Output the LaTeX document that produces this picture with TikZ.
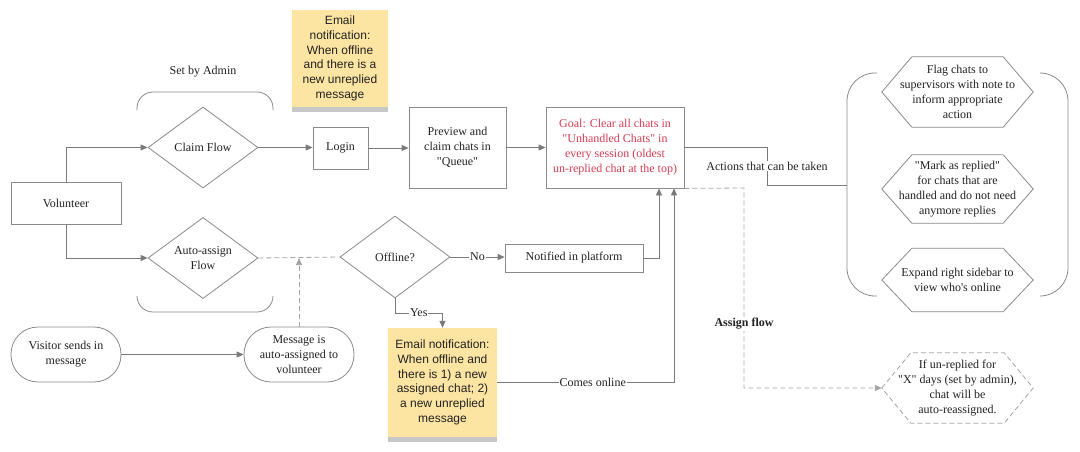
\documentclass[tikz,border=0pt]{standalone}
\usepackage{fontspec}
\setmainfont{Liberation Serif}[Ligatures=TeXOff]
\newfontfamily\sansf{Liberation Sans}[Ligatures=TeXOff]
\usetikzlibrary{arrows.meta,shapes.geometric,shadows,calc}
\definecolor{linegray}{HTML}{7A7A7A}
\definecolor{bordergray}{HTML}{8A8A8A}
\definecolor{dashgray}{HTML}{A5A5A5}
\definecolor{stickyyellow}{HTML}{FCE5A2}
\definecolor{goalred}{HTML}{D63D55}
\definecolor{txt}{HTML}{222222}
\begin{document}
\begin{tikzpicture}[x=1pt,y=-1pt,
  every node/.style={text=txt},
  sfont/.style={font=\fontsize{12}{15}\selectfont},
  box/.style={draw=bordergray, line width=0.8pt, fill=white, align=center, sfont, inner sep=2pt},
  dia/.style={diamond, draw=bordergray, line width=0.8pt, fill=white, align=center, sfont, inner sep=0pt, minimum width=110pt, minimum height=81pt},
  pill/.style={box, rounded corners=27pt, minimum width=110pt, minimum height=55pt},
  sticky/.style={fill=stickyyellow, align=center, inner sep=2pt, font=\sansf\fontsize{12}{14.7}\selectfont,
     drop shadow={shadow xshift=0pt, shadow yshift=-5pt, opacity=0.22, fill=black}},
  hexbox/.style={rectangle, minimum width=151pt, align=center, inner sep=0pt, sfont},
  lbl/.style={fill=white, inner sep=1pt, sfont},
  conn/.style={draw=linegray, line width=0.8pt},
  arr/.style={conn, -{Triangle[length=7pt,width=6pt]}},
  dsh/.style={draw=dashgray, line width=0.8pt, dash pattern=on 5pt off 3pt},
  brk/.style={draw=bordergray, line width=0.8pt}
]
\useasboundingbox (0,0) rectangle (1080,451);
\fill[white] (0,0) rectangle (1080,451);

% brackets
\draw[brk, rounded corners=16pt] (137,110) -- (137,92) -- (273,92) -- (273,110);
\draw[brk, rounded corners=16pt] (137,297) -- (137,312) -- (273,312) -- (273,297);
\draw[brk, rounded corners=28pt] (877,73) -- (847,73) -- (847,296) -- (877,296);
\draw[brk, rounded corners=28pt] (1040,73) -- (1068,73) -- (1068,296) -- (1040,296);
\node[sfont] (admin) at (203,72) {Set by Admin};

% nodes
\node[box, minimum width=110pt, minimum height=42pt] (vol) at (66,203) {Volunteer};
\node[dia] (claim) at (203,147.5) {Claim Flow};
\node[dia] (auto) at (203,258) {Auto-assign\\Flow};
\node[box, minimum width=55pt, minimum height=42pt] (login) at (340.5,148) {Login};
\node[box, minimum width=97pt, minimum height=81pt] (preview) at (457.5,147.5) {Preview and\\claim chats in\\"Queue"};
\node[box, minimum width=138pt, minimum height=81pt, text=goalred] (goal) at (615,147.5) {Goal: Clear all chats in\\"Unhandled Chats" in\\every session (oldest\\un-replied chat at the top)};
\node[sticky, minimum width=96pt, minimum height=97pt] (note1) at (340,58.5) {Email\\notification:\\When offline\\and there is a\\new unreplied\\message};
\node[dia, minimum height=82pt] (offline) at (395,257) {Offline?};
\node[box, minimum width=138pt, minimum height=28pt] (notified) at (574,258) {Notified in platform};
\node[pill] (visitor) at (66,354.5) {Visitor sends in\\message};
\node[pill] (msg) at (299,354.5) {Message is\\auto-assigned to\\volunteer};
\node[sticky, minimum width=109pt, minimum height=109pt] (note2) at (442.5,382.5) {Email notification:\\When offline and\\there is 1) a new\\assigned chat; 2)\\a new unreplied\\message};

% hexagons
\node[hexbox, minimum height=70pt] (hex1) at (957.5,92) {Flag chats to\\supervisors with note to\\inform appropriate\\action};
\node[hexbox, minimum height=68pt] (hex2) at (957.5,189) {"Mark as replied"\\for chats that are\\handled and do not need\\anymore replies};
\node[hexbox, minimum height=63pt] (hex3) at (957.5,280) {Expand right sidebar to\\view who's online};
\node[hexbox, minimum height=70pt] (hex4) at (957.5,388) {If un-replied for\\"X" days (set by admin),\\chat will be\\auto-reassigned.};
\foreach \h in {hex1,hex2,hex3}{
  \draw[brk] (\h.west) -- ($(\h.north west)+(30,0)$) -- ($(\h.north east)+(-30,0)$) -- (\h.east)
    -- ($(\h.south east)+(-30,0)$) -- ($(\h.south west)+(30,0)$) -- cycle;
}
\draw[dsh] (hex4.west) -- ($(hex4.north west)+(29,0)$) -- ($(hex4.north east)+(-29,0)$) -- (hex4.east)
    -- ($(hex4.south east)+(-29,0)$) -- ($(hex4.south west)+(29,0)$) -- cycle;

% connectors
\draw[arr] (vol.north) |- (claim.west);
\draw[arr] (vol.south) |- (auto.west);
\draw[arr] (claim.east) -- (login.west |- claim.east);
\draw[arr] (login.east) -- (preview.west |- login.east);
\draw[arr] (preview.east) -- (goal.west);
\draw[dsh] (auto.east) -- (offline.west);
\draw[dsh, -{Triangle[length=7pt,width=6pt]}] (msg.north) -- (msg.north |- auto.east);
\draw[arr] (visitor.east) -- (msg.west);
\draw[arr] (offline.east) -- node[lbl]{No} (notified.west |- offline.east);
\coordinate (ya) at (442.5,313);
\draw[arr] (offline.south) |- node[lbl, pos=0.75]{Yes} (ya) -- (note2.north);
\coordinate (g1) at ($(goal.south)+(44,0)$);
\coordinate (g2) at ($(goal.south)+(59,0)$);
\draw[arr] (notified.east) -| (g1);
\draw[arr] (note2.east) -| node[lbl, pos=0.27]{Comes online} (g2);
\coordinate (a1) at (767,147.5);
\coordinate (a2) at (767,185);
\coordinate (a3) at (847,185);
\draw[conn] (goal.east) -- (a1) -- node[lbl]{Actions that can be taken} (a2) -- (a3);
\coordinate (d1) at (744,188);
\coordinate (d2) at (744,388);
\draw[dsh, -{Triangle[length=7pt,width=6pt]}] (goal.south east) -- (d1) -- node[lbl, pos=0.68, font=\bfseries\fontsize{12}{15}\selectfont]{Assign flow} (d2) -- (hex4.west);
\end{tikzpicture}
\end{document}
